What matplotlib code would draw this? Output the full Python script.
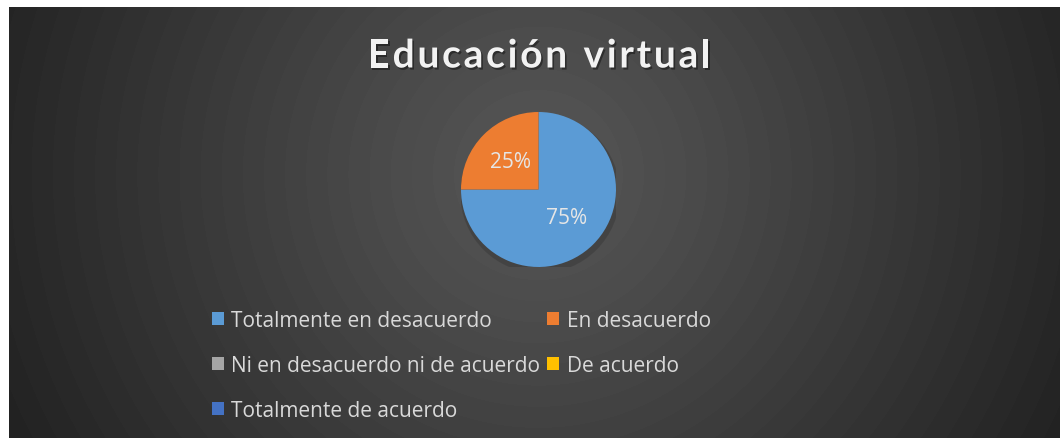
import numpy as np
import matplotlib.pyplot as plt
import matplotlib.patheffects as pe
from matplotlib.patches import Patch, Circle

# datos del gráfico
titulo = "Educación virtual"
categorias = ["Totalmente en desacuerdo", "En desacuerdo",
              "Ni en desacuerdo ni de acuerdo", "De acuerdo",
              "Totalmente de acuerdo"]
valores = [75, 25, 0, 0, 0]
colores = ["#5B9BD5", "#ED7D31", "#A5A5A5", "#FFC000", "#4472C4"]

W, H = 1060, 439
fig = plt.figure(figsize=(W / 100, H / 100), dpi=100)
fig.patch.set_facecolor("white")

# fondo con degradado radial (área del gráfico)
x0, y0 = 9, 8
bg = fig.add_axes([x0 / W, 0, (W - x0) / W, (H - y0) / H])
bg.set_axis_off()
yy, xx = np.mgrid[y0:H, x0:W]
cx, cy = 538, 175
r = np.hypot(xx - cx, yy - cy)
r = r / np.hypot(cx - x0, H - cy)
r = np.clip(r, 0, 1)
r = np.floor(r * 28) / 28  # bandas como en Excel
v = 0x56 - (0x56 - 0x20) * r ** 1.1
img = np.dstack([v, v, v]) / 255
bg.imshow(img, aspect="auto", interpolation="nearest")

# título con espaciado entre letras
rend = fig.canvas.get_renderer()
fp = dict(family="Lato", weight="bold", size=28, color="#F2F2F2")
anchos = []
for ch in titulo:
    t = fig.text(0, 0, ch if ch != " " else "n", **fp)
    anchos.append(t.get_window_extent(rend).width)
    t.remove()
anchos = [a if ch != " " else a * 0.5 for a, ch in zip(anchos, titulo)]
total = 343
esp = (total - sum(anchos)) / (len(titulo) - 1)
xpos = 539 - total / 2
sombra = [pe.SimplePatchShadow(offset=(1.2, -1.5), shadow_rgbFace="black", alpha=0.4), pe.Normal()]
for ch, a in zip(titulo, anchos):
    if ch != " ":
        fig.text(xpos / W, 1 - 68.5 / H, ch, ha="left", va="baseline",
                 path_effects=sombra, **fp)
    xpos += a + esp

# pastel
cxp, cyp, rp = 538.5, 190.5, 77.5
ax = fig.add_axes([(cxp - rp) / W, (H - cyp - rp) / H, 2 * rp / W, 2 * rp / H])
ax.set_axis_off()
ax.add_patch(Circle((0.02, -0.05), 1.03, color="black", alpha=0.14, lw=0, zorder=0))
wedges, texts, autotexts = ax.pie(
    valores, colors=colores, startangle=90, counterclock=False, radius=1,
    autopct=lambda p: f"{p:.0f}%" if p > 0 else "", pctdistance=0.52,
    textprops=dict(color="#E6E6E6", size=15, family="Open Sans"),
    wedgeprops=dict(linewidth=0))
ax.set_xlim(-1, 1)
ax.set_ylim(-1, 1)

# leyenda: 2 columnas, filas en orden de lectura
handles = [Patch(facecolor=c, edgecolor="none") for c in colores]
orden = [0, 2, 4, 1, 3]
leg = fig.legend([handles[i] for i in orden], [categorias[i] for i in orden],
                 ncol=2, loc="upper left", bbox_to_anchor=(195 / W, 1 - 294 / H),
                 frameon=False, prop=dict(family="Open Sans", size=15),
                 labelcolor="#D9D9D9", handlelength=0.58, handleheight=0.58,
                 handletextpad=0.35, columnspacing=0.35, labelspacing=1.15,
                 borderpad=0.3)

fig.savefig("out.png", dpi=100, facecolor=fig.get_facecolor())
